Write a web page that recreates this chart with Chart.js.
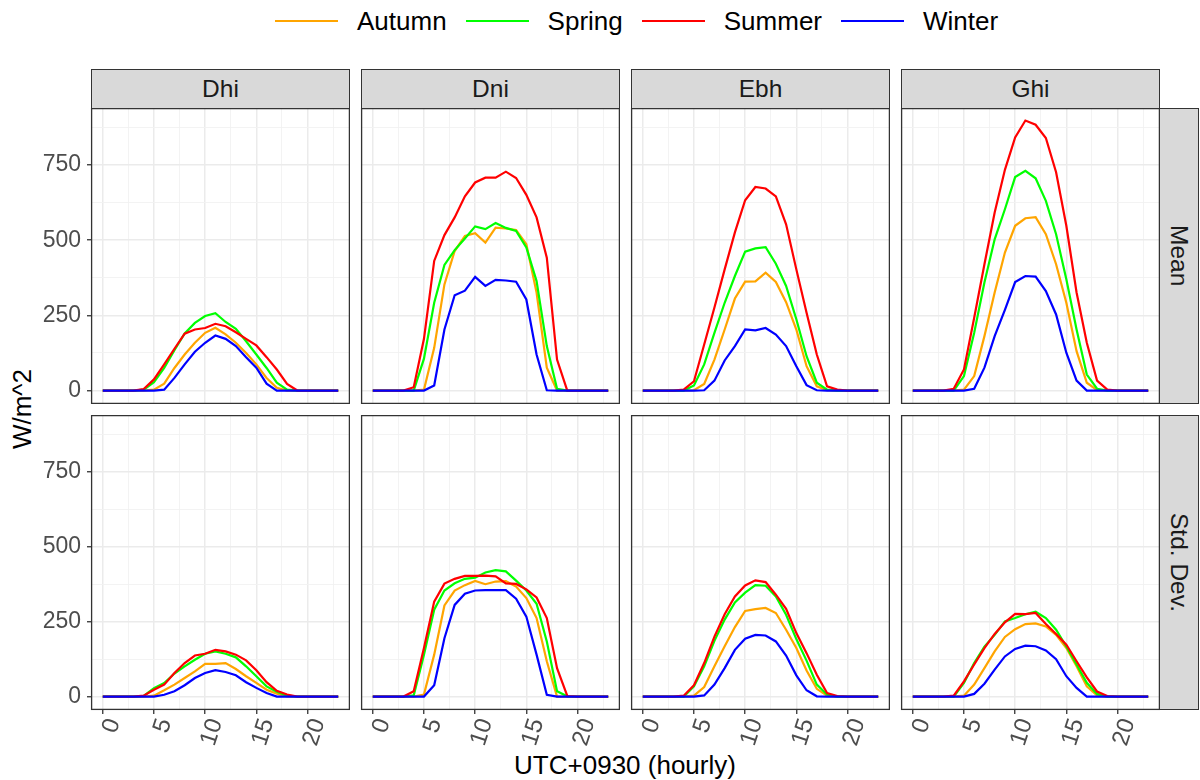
<!DOCTYPE html>
<html><head><meta charset="utf-8">
<script src="https://cdn.jsdelivr.net/npm/chart.js@4.4.1/dist/chart.umd.min.js"></script>
<style>
html,body{margin:0;padding:0;background:#fff}
body{width:1200px;height:780px;position:relative;overflow:hidden;font-family:"Liberation Sans",Arial,Helvetica,sans-serif}
.strip{position:absolute;background:#D9D9D9;border:1.2px solid #333;box-sizing:border-box;color:#1A1A1A;font-size:24.5px;display:flex;align-items:center;justify-content:center}
.vtext{writing-mode:vertical-rl}
.box{position:absolute}
#legend{position:absolute;left:275px;top:6px;height:30px;display:flex;align-items:center;font-size:26px;color:#000}
#legend .key{width:63px;height:2.4px;margin-right:19px}
#legend .lab{margin-right:19px}
#xtitle{position:absolute;left:91px;width:1068px;top:750px;text-align:center;font-size:26px;color:#000}
#ytitle{position:absolute;left:22px;top:409px;transform:translate(-50%,-50%) rotate(-90deg);font-size:26px;white-space:nowrap;color:#000}
</style>
</head><body>
<div id="legend"></div>
<div id="xtitle">UTC+0930 (hourly)</div>
<div id="ytitle">W/m^2</div>
<script>
// ---------- data ----------
const HOURS = [0,1,2,3,4,5,6,7,8,9,10,11,12,13,14,15,16,17,18,19,20,21,22,23];
const SEASONS = ['Autumn','Spring','Summer','Winter'];
const SEASON_COLORS = ['#FFA500','#00FF00','#FF0000','#0000FF'];
const VARIABLES = ['Dhi','Dni','Ebh','Ghi'];
const STATS = ['Mean','Std. Dev.'];
const X_TICK_LABELS = [0,5,10,15,20];
const Y_TICK_LABELS = [0,250,500,750];

// Dhi
const DHI_MEAN_AUTUMN = [0,0,0,0,0,3,23,75,120,159,192,209,187,159,125,87,42,9,0,0,0,0,0,0];
const DHI_MEAN_SPRING = [0,0,0,0,3,28,75,134,190,225,248,257,228,205,164,120,75,26,3,0,0,0,0,0];
const DHI_MEAN_SUMMER = [0,0,0,0,5,37,87,139,189,203,208,222,214,194,172,150,111,70,22,0,0,0,0,0];
const DHI_MEAN_WINTER = [0,0,0,0,0,0,3,42,87,129,159,183,172,148,111,76,23,0,0,0,0,0,0,0];
const DHI_SD_AUTUMN = [0,0,0,0,0,3,21,40,62,84,109,109,112,92,68,46,23,10,1,0,0,0,0,0];
const DHI_SD_SPRING = [0,0,0,0,2,28,45,77,101,123,143,151,143,131,101,68,34,16,3,0,0,0,0,0];
const DHI_SD_SUMMER = [0,0,0,0,3,23,40,79,112,137,143,156,151,140,121,88,48,19,7,0,0,0,0,0];
const DHI_SD_WINTER = [0,0,0,0,0,0,6,18,38,62,79,88,82,71,48,29,12,0,0,0,0,0,0,0];
// Dni
const DNI_MEAN_AUTUMN = [0,0,0,0,0,3,142,353,464,514,523,492,542,539,534,487,326,76,0,0,0,0,0,0];
const DNI_MEAN_SPRING = [0,0,0,0,0,106,292,418,467,506,546,537,557,541,531,476,364,148,6,0,0,0,0,0];
const DNI_MEAN_SUMMER = [0,0,0,0,11,172,431,517,576,646,692,708,708,728,707,651,576,442,103,0,0,0,0,0];
const DNI_MEAN_WINTER = [0,0,0,0,0,0,17,203,317,332,378,348,368,366,362,303,120,1,0,0,0,0,0,0];
const DNI_SD_AUTUMN = [0,0,0,0,0,7,140,304,354,372,386,375,384,385,367,329,262,118,0,0,0,0,0,0];
const DNI_SD_SPRING = [0,0,0,0,4,140,290,354,378,393,397,414,422,418,387,354,310,184,18,1,0,0,0,0];
const DNI_SD_SUMMER = [0,0,0,0,18,162,317,377,393,403,403,404,401,378,376,358,331,262,95,2,0,0,0,0];
const DNI_SD_WINTER = [0,0,0,0,0,0,38,195,306,343,354,355,355,355,327,267,140,6,0,0,0,0,0,0];
// Ebh
const EBH_MEAN_AUTUMN = [0,0,0,0,0,1,22,103,203,306,362,363,392,361,294,203,81,14,1,0,0,0,0,0];
const EBH_MEAN_SPRING = [0,0,0,0,0,17,87,192,292,381,462,473,477,422,348,237,114,26,3,0,0,0,0,0];
const EBH_MEAN_SUMMER = [0,0,0,0,3,31,153,276,403,526,633,677,672,646,553,403,259,120,14,3,0,0,0,0];
const EBH_MEAN_WINTER = [0,0,0,0,0,0,1,33,100,148,203,200,208,186,148,81,18,1,0,0,0,0,0,0];
const EBH_SD_AUTUMN = [0,0,0,0,0,3,32,101,168,232,286,292,296,279,223,162,87,26,3,0,0,0,0,0];
const EBH_SD_SPRING = [0,0,0,0,0,34,101,186,257,314,347,372,370,334,273,192,120,40,7,0,0,0,0,0];
const EBH_SD_SUMMER = [0,0,0,0,3,38,112,200,275,334,371,388,382,340,293,212,145,73,12,2,0,0,0,0];
const EBH_SD_WINTER = [0,0,0,0,0,0,4,40,95,156,193,206,204,184,137,71,21,1,0,0,0,0,0,0];
// Ghi
const GHI_MEAN_AUTUMN = [0,0,0,0,0,3,48,181,326,459,548,573,577,520,420,292,131,26,1,0,0,0,0,0];
const GHI_MEAN_SPRING = [0,0,0,0,0,48,192,359,503,603,710,731,706,631,520,370,203,53,6,0,0,0,0,0];
const GHI_MEAN_SUMMER = [0,0,0,0,6,70,242,420,592,734,842,898,884,840,726,548,326,159,33,3,0,0,0,0];
const GHI_MEAN_WINTER = [0,0,0,0,0,0,6,76,181,268,361,381,379,331,253,126,33,0,0,0,0,0,0,0];
const GHI_SD_AUTUMN = [0,0,0,0,0,3,40,95,151,199,225,242,244,234,206,162,101,34,4,0,0,0,0,0];
const GHI_SD_SPRING = [0,0,0,0,0,46,112,167,206,251,262,275,283,262,223,167,107,46,9,0,0,0,0,0];
const GHI_SD_SUMMER = [0,0,0,0,3,51,107,162,209,248,276,275,279,242,209,173,118,64,17,2,0,0,0,0];
const GHI_SD_WINTER = [0,0,0,0,0,0,9,43,90,134,159,170,168,154,125,68,29,0,0,0,0,0,0,0];

const PANELS = [
  [[DHI_MEAN_AUTUMN,DHI_MEAN_SPRING,DHI_MEAN_SUMMER,DHI_MEAN_WINTER],
   [DNI_MEAN_AUTUMN,DNI_MEAN_SPRING,DNI_MEAN_SUMMER,DNI_MEAN_WINTER],
   [EBH_MEAN_AUTUMN,EBH_MEAN_SPRING,EBH_MEAN_SUMMER,EBH_MEAN_WINTER],
   [GHI_MEAN_AUTUMN,GHI_MEAN_SPRING,GHI_MEAN_SUMMER,GHI_MEAN_WINTER]],
  [[DHI_SD_AUTUMN,DHI_SD_SPRING,DHI_SD_SUMMER,DHI_SD_WINTER],
   [DNI_SD_AUTUMN,DNI_SD_SPRING,DNI_SD_SUMMER,DNI_SD_WINTER],
   [EBH_SD_AUTUMN,EBH_SD_SPRING,EBH_SD_SUMMER,EBH_SD_WINTER],
   [GHI_SD_AUTUMN,GHI_SD_SPRING,GHI_SD_SUMMER,GHI_SD_WINTER]]
];

// ---------- layout ----------
const COL_LEFT = [91,361,631,901];
const PANEL_W = 259;
const ROW_TOP = [108,415];
const PANEL_H = [296,295];
const STRIP_TOP = 69, STRIP_H = 40;
const RSTRIP_LEFT = 1159, RSTRIP_W = 40;
const X_MIN = -1.15, X_MAX = 24.15;
const Y_MIN = -44.75, Y_MAX = 939.75;
const X_GRID = [0,2.5,5,7.5,10,12.5,15,17.5,20,22.5];
const Y_GRID = [0,125,250,375,500,625,750,875];

// legend
const legend = document.getElementById('legend');
SEASONS.forEach((s,i)=>{
  const k=document.createElement('div');k.className='key';k.style.background=SEASON_COLORS[i];
  const t=document.createElement('div');t.className='lab';t.textContent=s;
  legend.appendChild(k);legend.appendChild(t);
});
// strips
VARIABLES.forEach((v,c)=>{
  const d=document.createElement('div');d.className='strip';
  d.style.left=COL_LEFT[c]+'px';d.style.top=STRIP_TOP+'px';d.style.width=PANEL_W+'px';d.style.height=STRIP_H+'px';
  d.textContent=v;document.body.appendChild(d);
});
STATS.forEach((s,r)=>{
  const d=document.createElement('div');d.className='strip';
  d.style.left=RSTRIP_LEFT+'px';d.style.top=ROW_TOP[r]+'px';d.style.width=RSTRIP_W+'px';d.style.height=PANEL_H[r]+'px';
  const t=document.createElement('span');t.className='vtext';t.textContent=s;d.appendChild(t);
  document.body.appendChild(d);
});

const borderPlugin = {
  id:'panelBorder',
  afterDraw(chart){
    const a=chart.chartArea, ctx=chart.ctx;
    ctx.save();ctx.strokeStyle='#333333';ctx.lineWidth=1.3;
    ctx.strokeRect(a.left+0.6,a.top+0.6,a.right-a.left-1.2,a.bottom-a.top-1.2);
    ctx.restore();
  }
};

const isMajorX = v => X_TICK_LABELS.includes(v);
const isMajorY = v => Y_TICK_LABELS.includes(v);

for (let r=0;r<2;r++){
  for (let c=0;c<4;c++){
    const L = c===0 ? 62 : 12;
    const B = r===1 ? 56 : 0;
    const wrap=document.createElement('div');wrap.className='box';
    wrap.style.left=(COL_LEFT[c]-L)+'px';wrap.style.top=ROW_TOP[r]+'px';
    const cv=document.createElement('canvas');
    cv.width=PANEL_W+L;cv.height=PANEL_H[r]+B;
    cv.style.width=cv.width+'px';cv.style.height=cv.height+'px';
    wrap.appendChild(cv);document.body.appendChild(wrap);
    const series = PANELS[r][c];
    const datasets = SEASONS.map((s,i)=>({
      label:s,
      data:HOURS.map((h,j)=>({x:h,y:series[i][j]})),
      borderColor:SEASON_COLORS[i],
      backgroundColor:SEASON_COLORS[i],
      borderWidth:2.2,
      pointRadius:0,
      tension:0,
      fill:false,
      order:SEASONS.length-i
    }));
    new Chart(cv,{
      type:'line',
      data:{datasets},
      plugins:[borderPlugin],
      options:{
        responsive:false,animation:false,devicePixelRatio:1,
        layout:{padding:0},
        plugins:{legend:{display:false},tooltip:{enabled:false}},
        scales:{
          x:{
            type:'linear',min:X_MIN,max:X_MAX,
            afterBuildTicks:s=>{s.ticks=X_GRID.map(v=>({value:v}));},
            afterFit:s=>{s.height=B;s.paddingLeft=0;s.paddingRight=0;s.paddingTop=0;s.paddingBottom=0;},
            border:{display:false},
            grid:{
              color:ctx=>isMajorX(ctx.tick.value)?'#EBEBEB':'#F2F2F2',
              lineWidth:ctx=>isMajorX(ctx.tick.value)?1.5:0.9,
              drawTicks:r===1,tickLength:4,
              tickColor:ctx=>isMajorX(ctx.tick.value)?'#333333':'rgba(0,0,0,0)',
              tickWidth:ctx=>isMajorX(ctx.tick.value)?1.3:0
            },
            ticks:{
              display:r===1,autoSkip:false,minRotation:72,maxRotation:72,padding:1,labelOffset:11,
              color:'#4D4D4D',font:{family:'"Liberation Sans", Arial, sans-serif',size:24},
              callback:v=>isMajorX(v)?String(v):''
            }
          },
          y:{
            type:'linear',min:Y_MIN,max:Y_MAX,
            afterBuildTicks:s=>{s.ticks=Y_GRID.map(v=>({value:v}));},
            afterFit:s=>{s.width=L;s.paddingLeft=0;s.paddingRight=0;s.paddingTop=0;s.paddingBottom=0;},
            border:{display:false},
            grid:{
              color:ctx=>isMajorY(ctx.tick.value)?'#EBEBEB':'#F2F2F2',
              lineWidth:ctx=>isMajorY(ctx.tick.value)?1.5:0.9,
              drawTicks:c===0,tickLength:4,
              tickColor:ctx=>isMajorY(ctx.tick.value)?'#333333':'rgba(0,0,0,0)',
              tickWidth:ctx=>isMajorY(ctx.tick.value)?1.3:0
            },
            ticks:{
              display:c===0,autoSkip:false,padding:6,
              color:'#4D4D4D',font:{family:'"Liberation Sans", Arial, sans-serif',size:23},
              callback:v=>isMajorY(v)?String(v):''
            }
          }
        }
      }
    });
  }
}
</script>
</body></html>
